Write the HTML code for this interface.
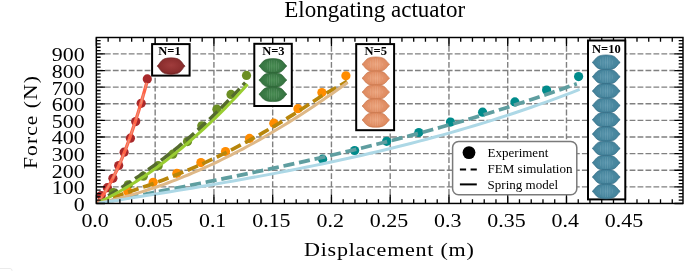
<!DOCTYPE html><html><head><meta charset="utf-8"><style>
html,body{margin:0;padding:0;background:#fff;width:685px;height:271px;overflow:hidden}
svg{display:block;will-change:transform}
text{font-family:"Liberation Serif",serif}
</style></head><body>
<svg width="685" height="271" viewBox="0 0 685 271">
<defs><radialGradient id="g1" cx="50%" cy="45%" r="60%"><stop offset="0" stop-color="#a03c3c"/><stop offset="0.7" stop-color="#8a2d2d"/><stop offset="1" stop-color="#6a2020"/></radialGradient><radialGradient id="g3" cx="50%" cy="50%" r="60%"><stop offset="0" stop-color="#468a50"/><stop offset="0.7" stop-color="#377542"/><stop offset="1" stop-color="#285c31"/></radialGradient><radialGradient id="g5" cx="50%" cy="50%" r="60%"><stop offset="0" stop-color="#eba27a"/><stop offset="0.7" stop-color="#df8c62"/><stop offset="1" stop-color="#c9774c"/></radialGradient><radialGradient id="g10" cx="50%" cy="50%" r="60%"><stop offset="0" stop-color="#5592aa"/><stop offset="0.7" stop-color="#45849c"/><stop offset="1" stop-color="#346f87"/></radialGradient><pattern id="st" width="2.3" height="5" patternUnits="userSpaceOnUse"><rect width="0.8" height="5" fill="#fff"/></pattern><clipPath id="ax"><rect x="96.35" y="37.5" width="586.65" height="165.95"/></clipPath></defs>
<path d="M155.16 203.45V37.5 M213.92 203.45V37.5 M272.68 203.45V37.5 M331.44 203.45V37.5 M390.2 203.45V37.5 M448.96 203.45V37.5 M507.72 203.45V37.5 M566.48 203.45V37.5 M625.24 203.45V37.5 M96.35 186.88H683 M96.35 170.26H683 M96.35 153.64H683 M96.35 137.02H683 M96.35 120.4H683 M96.35 103.78H683 M96.35 87.16H683 M96.35 70.54H683 M96.35 53.92H683" stroke="#808080" stroke-width="1.4" stroke-dasharray="5.8 2.15" stroke-dashoffset="-0.6" fill="none"/>
<g clip-path="url(#ax)">
<circle cx="147.3" cy="78.9" r="4.6" fill="#a8292b"/>
<circle cx="141.2" cy="103.3" r="4.6" fill="#a8292b"/>
<circle cx="135.7" cy="121.6" r="4.6" fill="#a8292b"/>
<circle cx="130.4" cy="138.2" r="4.6" fill="#a8292b"/>
<circle cx="124.1" cy="152.2" r="4.6" fill="#a8292b"/>
<circle cx="118.7" cy="165.5" r="4.6" fill="#a8292b"/>
<circle cx="112.9" cy="178.3" r="4.6" fill="#a8292b"/>
<circle cx="107.4" cy="187.7" r="4.6" fill="#a8292b"/>
<circle cx="101.2" cy="195.6" r="4.6" fill="#a8292b"/>
<circle cx="246.5" cy="75.4" r="4.6" fill="#6b8e23"/>
<circle cx="231" cy="94.4" r="4.6" fill="#6b8e23"/>
<circle cx="216.9" cy="109.2" r="4.6" fill="#6b8e23"/>
<circle cx="201.8" cy="125.8" r="4.6" fill="#6b8e23"/>
<circle cx="187.5" cy="141.6" r="4.6" fill="#6b8e23"/>
<circle cx="172.8" cy="154.2" r="4.6" fill="#6b8e23"/>
<circle cx="158.2" cy="165.7" r="4.6" fill="#6b8e23"/>
<circle cx="143.3" cy="176.2" r="4.6" fill="#6b8e23"/>
<circle cx="128.2" cy="184.8" r="4.6" fill="#6b8e23"/>
<circle cx="113.4" cy="192.5" r="4.6" fill="#6b8e23"/>
<circle cx="345.9" cy="75.8" r="4.6" fill="#ff8c00"/>
<circle cx="321.9" cy="92.6" r="4.6" fill="#ff8c00"/>
<circle cx="297.9" cy="108.7" r="4.6" fill="#ff8c00"/>
<circle cx="273.8" cy="123.2" r="4.6" fill="#ff8c00"/>
<circle cx="249.5" cy="138.4" r="4.6" fill="#ff8c00"/>
<circle cx="225.5" cy="151.6" r="4.6" fill="#ff8c00"/>
<circle cx="200.9" cy="162.6" r="4.6" fill="#ff8c00"/>
<circle cx="176.9" cy="173.3" r="4.6" fill="#ff8c00"/>
<circle cx="153.2" cy="182.3" r="4.6" fill="#ff8c00"/>
<circle cx="127.8" cy="191.4" r="4.6" fill="#ff8c00"/>
<circle cx="578.6" cy="76.6" r="4.6" fill="#008b8b"/>
<circle cx="546.6" cy="90" r="4.6" fill="#008b8b"/>
<circle cx="514.9" cy="101.9" r="4.6" fill="#008b8b"/>
<circle cx="482.6" cy="112.2" r="4.6" fill="#008b8b"/>
<circle cx="450.5" cy="122.1" r="4.6" fill="#008b8b"/>
<circle cx="418.8" cy="132.5" r="4.6" fill="#008b8b"/>
<circle cx="386.7" cy="141.3" r="4.6" fill="#008b8b"/>
<circle cx="354.6" cy="150.5" r="4.6" fill="#008b8b"/>
<circle cx="322.6" cy="159.2" r="4.6" fill="#008b8b"/>
<path d="M96.4 203.5 L98.88 201.9 L101.37 200.32 L103.85 198.75 L106.33 197.19 L108.82 195.63 L111.3 194.08 L113.79 192.52 L116.27 190.96 L118.75 189.39 L121.24 187.82 L123.72 186.23 L126.2 184.64 L128.69 183.03 L131.17 181.41 L133.65 179.77 L136.14 178.11 L138.62 176.44 L141.1 174.75 L143.59 173.04 L146.07 171.31 L148.56 169.56 L151.04 167.79 L153.52 166 L156.01 164.19 L158.49 162.35 L160.97 160.49 L163.46 158.61 L165.94 156.71 L168.42 154.78 L170.91 152.83 L173.39 150.85 L175.87 148.85 L178.36 146.83 L180.84 144.78 L183.33 142.71 L185.81 140.61 L188.29 138.48 L190.78 136.34 L193.26 134.16 L195.74 131.96 L198.23 129.74 L200.71 127.49 L203.19 125.22 L205.68 122.92 L208.16 120.59 L210.65 118.24 L213.13 115.87 L215.61 113.46 L218.1 111.04 L220.58 108.58 L223.06 106.1 L225.55 103.6 L228.03 101.07 L230.51 98.51 L233 95.93 L235.48 93.32 L237.96 90.69 L240.45 88.03 L242.93 85.35 L245.42 82.63" stroke="#556b2f" stroke-width="3.7" stroke-dasharray="11.1 4.8" stroke-dashoffset="1.8" fill="none"/>
<path d="M96.4 203.5 L100.58 201.82 L104.76 200.24 L108.93 198.72 L113.11 197.25 L117.29 195.81 L121.47 194.4 L125.64 193 L129.82 191.6 L134 190.2 L138.18 188.79 L142.36 187.37 L146.53 185.93 L150.71 184.46 L154.89 182.97 L159.07 181.45 L163.25 179.91 L167.42 178.33 L171.6 176.72 L175.78 175.08 L179.96 173.4 L184.13 171.69 L188.31 169.95 L192.49 168.17 L196.67 166.35 L200.85 164.5 L205.02 162.61 L209.2 160.69 L213.38 158.73 L217.56 156.73 L221.74 154.7 L225.91 152.63 L230.09 150.53 L234.27 148.39 L238.45 146.22 L242.62 144.01 L246.8 141.76 L250.98 139.49 L255.16 137.17 L259.34 134.82 L263.51 132.44 L267.69 130.02 L271.87 127.57 L276.05 125.09 L280.22 122.57 L284.4 120.02 L288.58 117.44 L292.76 114.82 L296.94 112.17 L301.11 109.49 L305.29 106.78 L309.47 104.03 L313.65 101.26 L317.83 98.45 L322 95.61 L326.18 93.28 L330.36 90.97 L334.54 88.62 L338.71 86.25 L342.89 83.85 L347.07 81.42" stroke="#b8860b" stroke-width="3.7" stroke-dasharray="11.1 4.8" stroke-dashoffset="14.1" fill="none"/>
<path d="M96.4 203.5 L104.41 201.97 L112.41 200.43 L120.42 198.89 L128.43 197.35 L136.44 195.81 L144.44 194.27 L152.45 192.72 L160.46 191.16 L168.46 189.6 L176.47 188.03 L184.48 186.45 L192.48 184.87 L200.49 183.27 L208.5 181.67 L216.51 180.05 L224.51 178.43 L232.52 176.79 L240.53 175.13 L248.53 173.47 L256.54 171.79 L264.55 170.09 L272.55 168.38 L280.56 166.65 L288.57 164.9 L296.58 163.13 L304.58 161.35 L312.59 159.54 L320.6 157.72 L328.6 155.87 L336.61 154 L344.62 152.11 L352.62 150.19 L360.63 148.25 L368.64 146.28 L376.65 144.29 L384.65 142.27 L392.66 140.22 L400.67 138.14 L408.67 136.04 L416.68 133.9 L424.69 131.74 L432.7 129.54 L440.7 127.31 L448.71 125.04 L456.72 122.74 L464.72 120.41 L472.73 118.04 L480.74 115.64 L488.74 113.2 L496.75 110.72 L504.76 108.2 L512.77 105.64 L520.77 103.05 L528.78 100.41 L536.79 97.73 L544.79 95.01 L552.8 92.24 L560.81 89.43 L568.81 86.58 L576.82 83.68" stroke="#5f9ea0" stroke-width="3.7" stroke-dasharray="11.1 4.8" stroke-dashoffset="0" fill="none"/>
<path d="M96.4 203.5 L97.24 202.55 L98.08 201.56 L98.91 200.54 L99.75 199.48 L100.59 198.38 L101.43 197.25 L102.27 196.08 L103.11 194.88 L103.94 193.64 L104.78 192.36 L105.62 191.05 L106.46 189.7 L107.3 188.32 L108.14 186.9 L108.97 185.45 L109.81 183.96 L110.65 182.43 L111.49 180.87 L112.33 179.27 L113.17 177.63 L114 175.96 L114.84 174.26 L115.68 172.52 L116.52 170.74 L117.36 168.93 L118.2 167.08 L119.03 165.19 L119.87 163.27 L120.71 161.31 L121.55 159.32 L122.39 157.29 L123.23 155.23 L124.06 153.12 L124.9 150.99 L125.74 148.82 L126.58 146.61 L127.42 144.36 L128.26 142.08 L129.09 139.77 L129.93 137.41 L130.77 135.03 L131.61 132.6 L132.45 130.14 L133.29 127.65 L134.12 125.12 L134.96 122.55 L135.8 119.95 L136.64 117.31 L137.48 114.63 L138.32 111.92 L139.15 109.17 L139.99 106.39 L140.83 103.57 L141.67 100.72 L142.51 97.83 L143.35 94.9 L144.18 91.94 L145.02 88.94 L145.86 85.91 L146.7 82.84" stroke="#ff6347" stroke-width="3.3" fill="none"/>
<path d="M96.4 203.5 L98.92 202.3 L101.44 201.08 L103.96 199.82 L106.48 198.55 L109 197.24 L111.52 195.91 L114.05 194.55 L116.57 193.17 L119.09 191.75 L121.61 190.31 L124.13 188.85 L126.65 187.36 L129.17 185.84 L131.69 184.29 L134.21 182.72 L136.73 181.12 L139.25 179.5 L141.77 177.84 L144.3 176.16 L146.82 174.46 L149.34 172.73 L151.86 170.97 L154.38 169.18 L156.9 167.37 L159.42 165.53 L161.94 163.66 L164.46 161.77 L166.98 159.85 L169.5 157.9 L172.02 155.93 L174.54 153.93 L177.07 151.91 L179.59 149.85 L182.11 147.77 L184.63 145.67 L187.15 143.53 L189.67 141.37 L192.19 139.19 L194.71 136.97 L197.23 134.73 L199.75 132.47 L202.27 130.17 L204.79 127.85 L207.32 125.51 L209.84 123.13 L212.36 120.73 L214.88 118.3 L217.4 115.85 L219.92 113.37 L222.44 110.86 L224.96 108.33 L227.48 105.77 L230 103.18 L232.52 100.57 L235.04 97.93 L237.57 95.26 L240.09 92.57 L242.61 89.84 L245.13 87.1 L247.65 84.32" stroke="#9acd32" stroke-width="3" fill="none"/>
<path d="M96.4 203.5 L100.59 202.63 L104.78 201.72 L108.96 200.77 L113.15 199.78 L117.34 198.74 L121.53 197.65 L125.71 196.53 L129.9 195.36 L134.09 194.16 L138.28 192.91 L142.46 191.61 L146.65 190.28 L150.84 188.91 L155.03 187.49 L159.21 186.04 L163.4 184.54 L167.59 183.01 L171.78 181.43 L175.96 179.82 L180.15 178.17 L184.34 176.47 L188.53 174.74 L192.72 172.97 L196.9 171.16 L201.09 169.32 L205.28 167.43 L209.47 165.51 L213.65 163.55 L217.84 161.55 L222.03 159.52 L226.22 157.45 L230.4 155.34 L234.59 153.2 L238.78 151.02 L242.97 148.8 L247.15 146.55 L251.34 144.26 L255.53 141.94 L259.72 139.59 L263.91 137.2 L268.09 134.77 L272.28 132.31 L276.47 129.82 L280.66 127.29 L284.84 124.73 L289.03 122.14 L293.22 119.52 L297.41 116.86 L301.59 114.17 L305.78 111.44 L309.97 108.69 L314.16 105.9 L318.34 103.08 L322.53 100.23 L326.72 97.35 L330.91 94.44 L335.09 91.5 L339.28 88.53 L343.47 85.52 L347.66 82.49" stroke="#deb887" stroke-width="3" fill="none"/>
<path d="M96.4 203.5 L104.45 202.22 L112.51 200.95 L120.56 199.67 L128.62 198.39 L136.67 197.1 L144.72 195.81 L152.78 194.51 L160.83 193.21 L168.89 191.9 L176.94 190.57 L184.99 189.24 L193.05 187.9 L201.1 186.54 L209.16 185.17 L217.21 183.79 L225.26 182.39 L233.32 180.97 L241.37 179.53 L249.43 178.08 L257.48 176.61 L265.53 175.11 L273.59 173.6 L281.64 172.06 L289.7 170.49 L297.75 168.9 L305.8 167.29 L313.86 165.65 L321.91 163.98 L329.97 162.28 L338.02 160.55 L346.08 158.79 L354.13 157 L362.18 155.17 L370.24 153.31 L378.29 151.42 L386.35 149.48 L394.4 147.51 L402.45 145.5 L410.51 143.46 L418.56 141.37 L426.62 139.24 L434.67 137.06 L442.72 134.85 L450.78 132.58 L458.83 130.28 L466.89 127.92 L474.94 125.52 L482.99 123.06 L491.05 120.56 L499.1 118.01 L507.16 115.4 L515.21 112.75 L523.26 110.03 L531.32 107.26 L539.37 104.44 L547.43 101.56 L555.48 98.62 L563.53 95.62 L571.59 92.56 L579.64 89.44" stroke="#add8e6" stroke-width="3" fill="none"/>
<path d="M96.4 203.5 L97.24 202.55 L98.08 201.56 L98.91 200.54 L99.75 199.48 L100.59 198.38 L101.43 197.25 L102.27 196.08 L103.11 194.88 L103.94 193.64 L104.78 192.36 L105.62 191.05 L106.46 189.7 L107.3 188.32 L108.14 186.9 L108.97 185.45 L109.81 183.96 L110.65 182.43 L111.49 180.87 L112.33 179.27 L113.17 177.63 L114 175.96 L114.84 174.26 L115.68 172.52 L116.52 170.74 L117.36 168.93 L118.2 167.08 L119.03 165.19 L119.87 163.27 L120.71 161.31 L121.55 159.32 L122.39 157.29 L123.23 155.23 L124.06 153.12 L124.9 150.99 L125.74 148.82 L126.58 146.61 L127.42 144.36 L128.26 142.08 L129.09 139.77 L129.93 137.41 L130.77 135.03 L131.61 132.6 L132.45 130.14 L133.29 127.65 L134.12 125.12 L134.96 122.55 L135.8 119.95 L136.64 117.31 L137.48 114.63 L138.32 111.92 L139.15 109.17 L139.99 106.39 L140.83 103.57 L141.67 100.72 L142.51 97.83 L143.35 94.9 L144.18 91.94 L145.02 88.94 L145.86 85.91 L146.7 82.84" stroke="#ec8f78" stroke-width="1.3" stroke-dasharray="11.1 4.8" stroke-dashoffset="2" fill="none"/>
</g>
<path d="M96.4 203.45v-8.6M96.4 37.5v8.6M108.15 203.45v-4.3M108.15 37.5v4.3M119.9 203.45v-4.3M119.9 37.5v4.3M131.66 203.45v-4.3M131.66 37.5v4.3M143.41 203.45v-4.3M143.41 37.5v4.3M155.16 203.45v-8.6M155.16 37.5v8.6M166.91 203.45v-4.3M166.91 37.5v4.3M178.66 203.45v-4.3M178.66 37.5v4.3M190.42 203.45v-4.3M190.42 37.5v4.3M202.17 203.45v-4.3M202.17 37.5v4.3M213.92 203.45v-8.6M213.92 37.5v8.6M225.67 203.45v-4.3M225.67 37.5v4.3M237.42 203.45v-4.3M237.42 37.5v4.3M249.18 203.45v-4.3M249.18 37.5v4.3M260.93 203.45v-4.3M260.93 37.5v4.3M272.68 203.45v-8.6M272.68 37.5v8.6M284.43 203.45v-4.3M284.43 37.5v4.3M296.18 203.45v-4.3M296.18 37.5v4.3M307.94 203.45v-4.3M307.94 37.5v4.3M319.69 203.45v-4.3M319.69 37.5v4.3M331.44 203.45v-8.6M331.44 37.5v8.6M343.19 203.45v-4.3M343.19 37.5v4.3M354.94 203.45v-4.3M354.94 37.5v4.3M366.7 203.45v-4.3M366.7 37.5v4.3M378.45 203.45v-4.3M378.45 37.5v4.3M390.2 203.45v-8.6M390.2 37.5v8.6M401.95 203.45v-4.3M401.95 37.5v4.3M413.7 203.45v-4.3M413.7 37.5v4.3M425.46 203.45v-4.3M425.46 37.5v4.3M437.21 203.45v-4.3M437.21 37.5v4.3M448.96 203.45v-8.6M448.96 37.5v8.6M460.71 203.45v-4.3M460.71 37.5v4.3M472.46 203.45v-4.3M472.46 37.5v4.3M484.22 203.45v-4.3M484.22 37.5v4.3M495.97 203.45v-4.3M495.97 37.5v4.3M507.72 203.45v-8.6M507.72 37.5v8.6M519.47 203.45v-4.3M519.47 37.5v4.3M531.22 203.45v-4.3M531.22 37.5v4.3M542.98 203.45v-4.3M542.98 37.5v4.3M554.73 203.45v-4.3M554.73 37.5v4.3M566.48 203.45v-8.6M566.48 37.5v8.6M578.23 203.45v-4.3M578.23 37.5v4.3M589.98 203.45v-4.3M589.98 37.5v4.3M601.74 203.45v-4.3M601.74 37.5v4.3M613.49 203.45v-4.3M613.49 37.5v4.3M625.24 203.45v-8.6M625.24 37.5v8.6M636.99 203.45v-4.3M636.99 37.5v4.3M648.74 203.45v-4.3M648.74 37.5v4.3M660.5 203.45v-4.3M660.5 37.5v4.3M672.25 203.45v-4.3M672.25 37.5v4.3M96.35 203.5h8.6M683 203.5h-8.6M96.35 200.18h4.3M683 200.18h-4.3M96.35 196.85h4.3M683 196.85h-4.3M96.35 193.53h4.3M683 193.53h-4.3M96.35 190.2h4.3M683 190.2h-4.3M96.35 186.88h8.6M683 186.88h-8.6M96.35 183.56h4.3M683 183.56h-4.3M96.35 180.23h4.3M683 180.23h-4.3M96.35 176.91h4.3M683 176.91h-4.3M96.35 173.58h4.3M683 173.58h-4.3M96.35 170.26h8.6M683 170.26h-8.6M96.35 166.94h4.3M683 166.94h-4.3M96.35 163.61h4.3M683 163.61h-4.3M96.35 160.29h4.3M683 160.29h-4.3M96.35 156.96h4.3M683 156.96h-4.3M96.35 153.64h8.6M683 153.64h-8.6M96.35 150.32h4.3M683 150.32h-4.3M96.35 146.99h4.3M683 146.99h-4.3M96.35 143.67h4.3M683 143.67h-4.3M96.35 140.34h4.3M683 140.34h-4.3M96.35 137.02h8.6M683 137.02h-8.6M96.35 133.7h4.3M683 133.7h-4.3M96.35 130.37h4.3M683 130.37h-4.3M96.35 127.05h4.3M683 127.05h-4.3M96.35 123.72h4.3M683 123.72h-4.3M96.35 120.4h8.6M683 120.4h-8.6M96.35 117.08h4.3M683 117.08h-4.3M96.35 113.75h4.3M683 113.75h-4.3M96.35 110.43h4.3M683 110.43h-4.3M96.35 107.1h4.3M683 107.1h-4.3M96.35 103.78h8.6M683 103.78h-8.6M96.35 100.46h4.3M683 100.46h-4.3M96.35 97.13h4.3M683 97.13h-4.3M96.35 93.81h4.3M683 93.81h-4.3M96.35 90.48h4.3M683 90.48h-4.3M96.35 87.16h8.6M683 87.16h-8.6M96.35 83.84h4.3M683 83.84h-4.3M96.35 80.51h4.3M683 80.51h-4.3M96.35 77.19h4.3M683 77.19h-4.3M96.35 73.86h4.3M683 73.86h-4.3M96.35 70.54h8.6M683 70.54h-8.6M96.35 67.22h4.3M683 67.22h-4.3M96.35 63.89h4.3M683 63.89h-4.3M96.35 60.57h4.3M683 60.57h-4.3M96.35 57.24h4.3M683 57.24h-4.3M96.35 53.92h8.6M683 53.92h-8.6M96.35 50.6h4.3M683 50.6h-4.3M96.35 47.27h4.3M683 47.27h-4.3M96.35 43.95h4.3M683 43.95h-4.3M96.35 40.62h4.3M683 40.62h-4.3" stroke="#000" stroke-width="1.3" fill="none"/>
<rect x="96.35" y="37.5" width="586.65" height="165.95" stroke="#000" stroke-width="1.45" fill="none"/>
<rect x="152.1" y="44.1" width="37.5" height="31.5" fill="#fff" stroke="#000" stroke-width="2"/>
<text x="169.5" y="54.6" font-size="12.5" font-weight="bold" text-anchor="middle">N=1</text>
<path d="M157.1 66.1C161.02 62.78 160.46 57.8 171.1 57.8C181.74 57.8 181.18 62.78 185.1 66.1C181.18 69.42 181.74 74.4 171.1 74.4C160.46 74.4 161.02 69.42 157.1 66.1Z" fill="url(#g1)" stroke="#6a2222" stroke-width="0.6"/>
<rect x="254.3" y="43.8" width="37.5" height="62.2" fill="#fff" stroke="#000" stroke-width="2"/>
<text x="273.4" y="55" font-size="12.5" font-weight="bold" text-anchor="middle">N=3</text>
<path d="M258.9 66C262.82 63.04 262.26 58.6 272.9 58.6C283.54 58.6 282.98 63.04 286.9 66C282.98 68.96 283.54 73.4 272.9 73.4C262.26 73.4 262.82 68.96 258.9 66Z" fill="url(#g3)" stroke="#2c6234" stroke-width="0.6"/>
<path d="M265.2 66C267.36 63.63 267.05 60.08 272.9 60.08C278.75 60.08 278.44 63.63 280.6 66C278.44 68.37 278.75 71.92 272.9 71.92C267.05 71.92 267.36 68.37 265.2 66Z" fill="url(#st)" opacity="0.12"/>
<path d="M258.9 80.1C262.82 77.14 262.26 72.7 272.9 72.7C283.54 72.7 282.98 77.14 286.9 80.1C282.98 83.06 283.54 87.5 272.9 87.5C262.26 87.5 262.82 83.06 258.9 80.1Z" fill="url(#g3)" stroke="#2c6234" stroke-width="0.6"/>
<path d="M265.2 80.1C267.36 77.73 267.05 74.18 272.9 74.18C278.75 74.18 278.44 77.73 280.6 80.1C278.44 82.47 278.75 86.02 272.9 86.02C267.05 86.02 267.36 82.47 265.2 80.1Z" fill="url(#st)" opacity="0.12"/>
<path d="M258.9 94.2C262.82 91.24 262.26 86.8 272.9 86.8C283.54 86.8 282.98 91.24 286.9 94.2C282.98 97.16 283.54 101.6 272.9 101.6C262.26 101.6 262.82 97.16 258.9 94.2Z" fill="url(#g3)" stroke="#2c6234" stroke-width="0.6"/>
<path d="M265.2 94.2C267.36 91.83 267.05 88.28 272.9 88.28C278.75 88.28 278.44 91.83 280.6 94.2C278.44 96.57 278.75 100.12 272.9 100.12C267.05 100.12 267.36 96.57 265.2 94.2Z" fill="url(#st)" opacity="0.12"/>
<rect x="356.2" y="44.1" width="37.9" height="86.1" fill="#fff" stroke="#000" stroke-width="2"/>
<text x="375.7" y="54.6" font-size="12.5" font-weight="bold" text-anchor="middle">N=5</text>
<path d="M362 64.3C365.86 61.34 365.31 56.9 375.8 56.9C386.29 56.9 385.74 61.34 389.6 64.3C385.74 67.26 386.29 71.7 375.8 71.7C365.31 71.7 365.86 67.26 362 64.3Z" fill="url(#g5)" stroke="#c7764b" stroke-width="0.6"/>
<path d="M368.21 64.3C370.34 61.93 370.03 58.38 375.8 58.38C381.57 58.38 381.26 61.93 383.39 64.3C381.26 66.67 381.57 70.22 375.8 70.22C370.03 70.22 370.34 66.67 368.21 64.3Z" fill="url(#st)" opacity="0.12"/>
<path d="M362 78.2C365.86 75.24 365.31 70.8 375.8 70.8C386.29 70.8 385.74 75.24 389.6 78.2C385.74 81.16 386.29 85.6 375.8 85.6C365.31 85.6 365.86 81.16 362 78.2Z" fill="url(#g5)" stroke="#c7764b" stroke-width="0.6"/>
<path d="M368.21 78.2C370.34 75.83 370.03 72.28 375.8 72.28C381.57 72.28 381.26 75.83 383.39 78.2C381.26 80.57 381.57 84.12 375.8 84.12C370.03 84.12 370.34 80.57 368.21 78.2Z" fill="url(#st)" opacity="0.12"/>
<path d="M362 92.1C365.86 89.14 365.31 84.7 375.8 84.7C386.29 84.7 385.74 89.14 389.6 92.1C385.74 95.06 386.29 99.5 375.8 99.5C365.31 99.5 365.86 95.06 362 92.1Z" fill="url(#g5)" stroke="#c7764b" stroke-width="0.6"/>
<path d="M368.21 92.1C370.34 89.73 370.03 86.18 375.8 86.18C381.57 86.18 381.26 89.73 383.39 92.1C381.26 94.47 381.57 98.02 375.8 98.02C370.03 98.02 370.34 94.47 368.21 92.1Z" fill="url(#st)" opacity="0.12"/>
<path d="M362 106C365.86 103.04 365.31 98.6 375.8 98.6C386.29 98.6 385.74 103.04 389.6 106C385.74 108.96 386.29 113.4 375.8 113.4C365.31 113.4 365.86 108.96 362 106Z" fill="url(#g5)" stroke="#c7764b" stroke-width="0.6"/>
<path d="M368.21 106C370.34 103.63 370.03 100.08 375.8 100.08C381.57 100.08 381.26 103.63 383.39 106C381.26 108.37 381.57 111.92 375.8 111.92C370.03 111.92 370.34 108.37 368.21 106Z" fill="url(#st)" opacity="0.12"/>
<path d="M362 119.9C365.86 116.94 365.31 112.5 375.8 112.5C386.29 112.5 385.74 116.94 389.6 119.9C385.74 122.86 386.29 127.3 375.8 127.3C365.31 127.3 365.86 122.86 362 119.9Z" fill="url(#g5)" stroke="#c7764b" stroke-width="0.6"/>
<path d="M368.21 119.9C370.34 117.53 370.03 113.98 375.8 113.98C381.57 113.98 381.26 117.53 383.39 119.9C381.26 122.27 381.57 125.82 375.8 125.82C370.03 125.82 370.34 122.27 368.21 119.9Z" fill="url(#st)" opacity="0.12"/>
<rect x="588" y="40.5" width="37.3" height="158.9" fill="#fff" stroke="#000" stroke-width="2"/>
<text x="606.4" y="52.5" font-size="12.5" font-weight="bold" text-anchor="middle">N=10</text>
<path d="M592.2 62.4C596.12 59.4 595.56 54.9 606.2 54.9C616.84 54.9 616.28 59.4 620.2 62.4C616.28 65.4 616.84 69.9 606.2 69.9C595.56 69.9 596.12 65.4 592.2 62.4Z" fill="url(#g10)" stroke="#346c84" stroke-width="0.6"/>
<path d="M598.5 62.4C600.66 60 600.35 56.4 606.2 56.4C612.05 56.4 611.74 60 613.9 62.4C611.74 64.8 612.05 68.4 606.2 68.4C600.35 68.4 600.66 64.8 598.5 62.4Z" fill="url(#st)" opacity="0.12"/>
<path d="M592.2 76.73C596.12 73.73 595.56 69.23 606.2 69.23C616.84 69.23 616.28 73.73 620.2 76.73C616.28 79.73 616.84 84.23 606.2 84.23C595.56 84.23 596.12 79.73 592.2 76.73Z" fill="url(#g10)" stroke="#346c84" stroke-width="0.6"/>
<path d="M598.5 76.73C600.66 74.33 600.35 70.73 606.2 70.73C612.05 70.73 611.74 74.33 613.9 76.73C611.74 79.13 612.05 82.73 606.2 82.73C600.35 82.73 600.66 79.13 598.5 76.73Z" fill="url(#st)" opacity="0.12"/>
<path d="M592.2 91.06C596.12 88.06 595.56 83.56 606.2 83.56C616.84 83.56 616.28 88.06 620.2 91.06C616.28 94.06 616.84 98.56 606.2 98.56C595.56 98.56 596.12 94.06 592.2 91.06Z" fill="url(#g10)" stroke="#346c84" stroke-width="0.6"/>
<path d="M598.5 91.06C600.66 88.66 600.35 85.06 606.2 85.06C612.05 85.06 611.74 88.66 613.9 91.06C611.74 93.46 612.05 97.06 606.2 97.06C600.35 97.06 600.66 93.46 598.5 91.06Z" fill="url(#st)" opacity="0.12"/>
<path d="M592.2 105.39C596.12 102.39 595.56 97.89 606.2 97.89C616.84 97.89 616.28 102.39 620.2 105.39C616.28 108.39 616.84 112.89 606.2 112.89C595.56 112.89 596.12 108.39 592.2 105.39Z" fill="url(#g10)" stroke="#346c84" stroke-width="0.6"/>
<path d="M598.5 105.39C600.66 102.99 600.35 99.39 606.2 99.39C612.05 99.39 611.74 102.99 613.9 105.39C611.74 107.79 612.05 111.39 606.2 111.39C600.35 111.39 600.66 107.79 598.5 105.39Z" fill="url(#st)" opacity="0.12"/>
<path d="M592.2 119.72C596.12 116.72 595.56 112.22 606.2 112.22C616.84 112.22 616.28 116.72 620.2 119.72C616.28 122.72 616.84 127.22 606.2 127.22C595.56 127.22 596.12 122.72 592.2 119.72Z" fill="url(#g10)" stroke="#346c84" stroke-width="0.6"/>
<path d="M598.5 119.72C600.66 117.32 600.35 113.72 606.2 113.72C612.05 113.72 611.74 117.32 613.9 119.72C611.74 122.12 612.05 125.72 606.2 125.72C600.35 125.72 600.66 122.12 598.5 119.72Z" fill="url(#st)" opacity="0.12"/>
<path d="M592.2 134.05C596.12 131.05 595.56 126.55 606.2 126.55C616.84 126.55 616.28 131.05 620.2 134.05C616.28 137.05 616.84 141.55 606.2 141.55C595.56 141.55 596.12 137.05 592.2 134.05Z" fill="url(#g10)" stroke="#346c84" stroke-width="0.6"/>
<path d="M598.5 134.05C600.66 131.65 600.35 128.05 606.2 128.05C612.05 128.05 611.74 131.65 613.9 134.05C611.74 136.45 612.05 140.05 606.2 140.05C600.35 140.05 600.66 136.45 598.5 134.05Z" fill="url(#st)" opacity="0.12"/>
<path d="M592.2 148.38C596.12 145.38 595.56 140.88 606.2 140.88C616.84 140.88 616.28 145.38 620.2 148.38C616.28 151.38 616.84 155.88 606.2 155.88C595.56 155.88 596.12 151.38 592.2 148.38Z" fill="url(#g10)" stroke="#346c84" stroke-width="0.6"/>
<path d="M598.5 148.38C600.66 145.98 600.35 142.38 606.2 142.38C612.05 142.38 611.74 145.98 613.9 148.38C611.74 150.78 612.05 154.38 606.2 154.38C600.35 154.38 600.66 150.78 598.5 148.38Z" fill="url(#st)" opacity="0.12"/>
<path d="M592.2 162.71C596.12 159.71 595.56 155.21 606.2 155.21C616.84 155.21 616.28 159.71 620.2 162.71C616.28 165.71 616.84 170.21 606.2 170.21C595.56 170.21 596.12 165.71 592.2 162.71Z" fill="url(#g10)" stroke="#346c84" stroke-width="0.6"/>
<path d="M598.5 162.71C600.66 160.31 600.35 156.71 606.2 156.71C612.05 156.71 611.74 160.31 613.9 162.71C611.74 165.11 612.05 168.71 606.2 168.71C600.35 168.71 600.66 165.11 598.5 162.71Z" fill="url(#st)" opacity="0.12"/>
<path d="M592.2 177.04C596.12 174.04 595.56 169.54 606.2 169.54C616.84 169.54 616.28 174.04 620.2 177.04C616.28 180.04 616.84 184.54 606.2 184.54C595.56 184.54 596.12 180.04 592.2 177.04Z" fill="url(#g10)" stroke="#346c84" stroke-width="0.6"/>
<path d="M598.5 177.04C600.66 174.64 600.35 171.04 606.2 171.04C612.05 171.04 611.74 174.64 613.9 177.04C611.74 179.44 612.05 183.04 606.2 183.04C600.35 183.04 600.66 179.44 598.5 177.04Z" fill="url(#st)" opacity="0.12"/>
<path d="M592.2 191.37C596.12 188.37 595.56 183.87 606.2 183.87C616.84 183.87 616.28 188.37 620.2 191.37C616.28 194.37 616.84 198.87 606.2 198.87C595.56 198.87 596.12 194.37 592.2 191.37Z" fill="url(#g10)" stroke="#346c84" stroke-width="0.6"/>
<path d="M598.5 191.37C600.66 188.97 600.35 185.37 606.2 185.37C612.05 185.37 611.74 188.97 613.9 191.37C611.74 193.77 612.05 197.37 606.2 197.37C600.35 197.37 600.66 193.77 598.5 191.37Z" fill="url(#st)" opacity="0.12"/>
<rect x="452.6" y="141.5" width="124.2" height="53.2" rx="6" fill="#fff" stroke="#7a7a7a" stroke-width="1.5"/>
<circle cx="469" cy="152.6" r="6.4" fill="#000"/>
<path d="M459.9 169.5H466.1M470.6 169.5H476.8" stroke="#000" stroke-width="2"/>
<path d="M459.9 184.4H476.8" stroke="#000" stroke-width="2"/>
<text font-size="13" x="487.6" y="157.1">Experiment</text>
<text font-size="13" x="487.6" y="173.1">FEM simulation</text>
<text font-size="13" x="487.6" y="188.6">Spring model</text>
<text x="284.3" y="16.5" font-size="23">Elongating actuator</text>
<text transform="translate(95.1,227.4) scale(1.18,1)" font-size="18.6" text-anchor="middle">0.0</text>
<text transform="translate(153.86,227.4) scale(1.18,1)" font-size="18.6" text-anchor="middle">0.05</text>
<text transform="translate(212.62,227.4) scale(1.18,1)" font-size="18.6" text-anchor="middle">0.1</text>
<text transform="translate(271.38,227.4) scale(1.18,1)" font-size="18.6" text-anchor="middle">0.15</text>
<text transform="translate(330.14,227.4) scale(1.18,1)" font-size="18.6" text-anchor="middle">0.2</text>
<text transform="translate(388.9,227.4) scale(1.18,1)" font-size="18.6" text-anchor="middle">0.25</text>
<text transform="translate(447.66,227.4) scale(1.18,1)" font-size="18.6" text-anchor="middle">0.3</text>
<text transform="translate(506.42,227.4) scale(1.18,1)" font-size="18.6" text-anchor="middle">0.35</text>
<text transform="translate(565.18,227.4) scale(1.18,1)" font-size="18.6" text-anchor="middle">0.4</text>
<text transform="translate(623.94,227.4) scale(1.18,1)" font-size="18.6" text-anchor="middle">0.45</text>
<text transform="translate(84.6,210.9) scale(1.18,1)" font-size="18.6" text-anchor="end">0</text>
<text transform="translate(84.6,194.28) scale(1.18,1)" font-size="18.6" text-anchor="end">100</text>
<text transform="translate(84.6,177.66) scale(1.18,1)" font-size="18.6" text-anchor="end">200</text>
<text transform="translate(84.6,161.04) scale(1.18,1)" font-size="18.6" text-anchor="end">300</text>
<text transform="translate(84.6,144.42) scale(1.18,1)" font-size="18.6" text-anchor="end">400</text>
<text transform="translate(84.6,127.8) scale(1.18,1)" font-size="18.6" text-anchor="end">500</text>
<text transform="translate(84.6,111.18) scale(1.18,1)" font-size="18.6" text-anchor="end">600</text>
<text transform="translate(84.6,94.56) scale(1.18,1)" font-size="18.6" text-anchor="end">700</text>
<text transform="translate(84.6,77.94) scale(1.18,1)" font-size="18.6" text-anchor="end">800</text>
<text transform="translate(84.6,61.32) scale(1.18,1)" font-size="18.6" text-anchor="end">900</text>
<text transform="translate(389.3,256.1) scale(1.16,1)" font-size="19" text-anchor="middle" letter-spacing="0.65">Displacement (m)</text>
<text transform="translate(37,122) rotate(-90) scale(1.14,1)" x="0" y="0" font-size="19" text-anchor="middle" letter-spacing="0.9">Force (N)</text>
<path d="M0 268.5H10Q12 268.5 12 270.5V271" stroke="#ebebeb" stroke-width="1" fill="none"/>
</svg></body></html>
